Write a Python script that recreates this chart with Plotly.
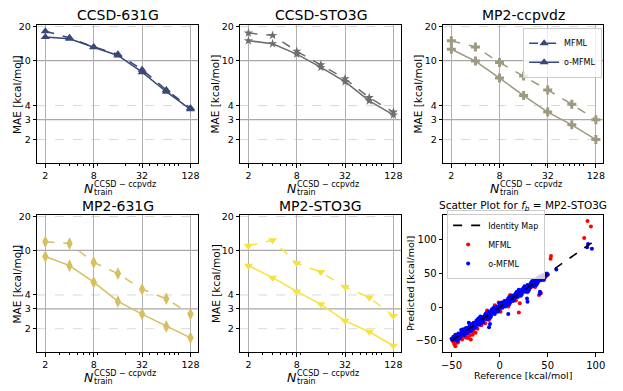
import plotly.graph_objects as go
from plotly.subplots import make_subplots

# training set sizes (x axis of the learning curves)
n_train = [2, 4, 8, 16, 32, 64, 128]

# MAE [kcal/mol]
ccsd_631g_mfml = [18.2, 15.9, 13.2, 11.4, 8.3, 5.5, 3.8]
ccsd_631g_omfml = [16.2, 15.6, 13.1, 11.1, 7.9, 5.3, 3.7]
ccsd_sto3g_mfml = [17.5, 16.7, 12.1, 9.2, 6.9, 4.7, 3.5]
ccsd_sto3g_omfml = [15.0, 14.1, 11.4, 8.7, 6.5, 4.4, 3.3]
mp2_ccpvdz_mfml = [15.0, 13.2, 9.6, 7.3, 5.5, 4.1, 3.0]
mp2_ccpvdz_omfml = [12.6, 9.9, 7.0, 4.9, 3.5, 2.7, 2.0]
mp2_631g_mfml = [11.9, 11.5, 7.8, 6.2, 4.5, 3.7, 2.7]
mp2_631g_omfml = [8.8, 7.3, 5.2, 3.5, 2.7, 2.1, 1.66]
mp2_sto3g_mfml = [11.0, 12.3, 7.7, 6.4, 4.7, 3.8, 2.6]
mp2_sto3g_omfml = [7.3, 5.7, 4.3, 3.3, 2.35, 1.88, 1.41]

x_ticks = [2, 8, 32, 128]
x_minor = [3, 4, 5, 6, 7, 9, 20, 30, 40, 50, 60, 70, 80, 90]
y_ticks = [2, 3, 4, 10, 20]
y_solid = [3, 10]
y_dashed = [2, 4, 20]

# scatter panel (f_b = MP2-STO3G): reference vs predicted [kcal/mol]
mfml_ref = [-49, -48, -47.5, -46, -45, -44.5, -43, -42, -41.5, -40, -39, -38.5, -37, -36, -35.5,
            -34, -33, -32.5, -31, -30, -29.5, -28, -27, -26.5, -25, -24, -23.5, -22, -21, -20.5,
            -19, -18, -17.5, -16, -15, -14.5, -13, -12, -11.5, -10, -9, -8.5, -7, -6, -5.5,
            -4, -3, -2.5, -1, 0, 0.5, 2, 3, 3.5, 5, 6, 6.5, 8, 9, 9.5, 11, 12, 12.5, 14, 15,
            15.5, 17, 18, 18.5, 20, 21, 21.5, 23, 24, 24.5, 26, 27, 27.5, 29, 30, 30.5, 32, 33,
            33.5, 35, 36, 37.5, 39, 40, 42, 44, 45, 47, 48, 50,
            -47, -43, -39, -35, -31, -23, -19, -15, -11, -13, -5, -1, 1, 9, 11, 17, 29, 37, 46,
            91.5, 95, 88, 53.5, 53, 40, 41, 43, 21, 20, -33, -30, -28, -35, -46, -44, -25, -32, -27]
mfml_pred = [-50, -52, -45.5, -50, -43, -48.5, -47, -40, -45.5, -39, -44, -37.5, -41, -34, -39.5,
             -38, -31, -36.5, -29, -35, -28.5, -31, -25, -30.5, -24, -21, -26.5, -20, -24, -18.5,
             -21, -15, -20.5, -14, -18, -12.5, -15, -9, -14.5, -8, -6, -11.5, -5, -9, -3.5,
             -6, 0, -5.5, 1, -2, 3.5, 0, 5, 6.5, 2, 8, 4.5, 11, 6, 12.5, 9, 15, 10.5, 17, 12,
             18.5, 15, 20, 16.5, 23, 18, 24.5, 21, 27, 22.5, 28, 24, 30.5, 27, 32, 27.5, 34, 30,
             36.5, 33, 38, 35.5, 41, 37, 44, 41, 47, 45, 49, 48,
             -55, -52, -48, -45, -42, -32, -27, -24, -19, -5, 3, 7, -7, 1, 18, 10, 22, 30, 40,
             128, 120, 103, 76, 72, 44, 18, 21, 6, -8, -46, -48, -41, -44, -58, -53, -38, -38, -36]

omfml_ref = [-50, -49, -48.5, -47, -46, -45.5, -44, -43, -42.5, -41, -40, -39, -38.5, -37, -36,
             -35, -34.5, -33, -32, -31, -30.5, -29, -28, -27, -26.5, -25, -24, -23, -22.5, -21,
             -20, -19, -18.5, -17, -16, -15, -14.5, -13, -12, -11, -10.5, -9, -8, -7, -6.5, -5,
             -4, -3, -2.5, -1, 0, 1, 1.5, 3, 4, 5, 5.5, 7, 8, 9, 9.5, 11, 12, 13, 13.5, 15, 16,
             17, 17.5, 19, 20, 21, 21.5, 23, 24, 25, 25.5, 27, 28, 29, 29.5, 31, 32, 33, 33.5,
             35, 36, 37, 37.5, 39, 40, 41, 41.5, 43, 44, 45, 46, 47, 48, 49, 50,
             -48, -45, -43, -41, -39, -37, -35, -33, -31, -29, -27, -25, -23, -21, -19, -17,
             -15, -13, -11, -9, -7, -5, -3, -1, 1, 3, 5, 7, 9, 11, 13, 15, 17, 19, 21, 23, 25,
             27, 29, 31, 33, 35, 37, 39, 41, 43, 45, 47, -30, -20, -10, 0, 10, 20, 30, -40, -44,
             -46, -42, -38, -34, -30, -26, -22, -18, -14, -10, -6, -2, 2, 6, 10, 14, 18, 22, 26,
             30, 34, 38, 42, 46, -44, -36, -24, -12, 4, 16, 28, 36, 44, -8, 8, 24, 32, 40, 48,
             92, 91, 96, 59, 42, 42, 28.5, 29, 9, -10, -11, -32, -47, -48, -46, -49]
omfml_pred = [-47, -48, -46.5, -48, -44, -46.5, -42, -45, -40.5, -43, -38, -40, -36.5, -39, -35,
              -33, -36.5, -31, -34, -30, -28.5, -31, -27, -25, -28.5, -23, -25, -21, -24.5, -19,
              -21, -17, -20.5, -15, -17, -13, -16.5, -11, -13, -10, -8.5, -11, -6, -8, -4.5, -7,
              -3, -1, -4.5, 1, -1, 3, -0.5, 5, 3, 7, 4, 9, 7, 11, 8, 13, 11, 15, 12, 17, 15,
              19, 16, 21, 19, 23, 20, 25, 23, 27, 24, 29, 27, 31, 28, 33, 31, 35, 32,
              37, 35, 39, 36, 41, 39, 43, 40, 45, 43, 46, 45, 48, 47, 50, 49,
              -44, -49, -39, -46, -35, -42, -31, -37, -27, -34, -23, -30, -19, -26, -15, -22,
              -11, -18, -7, -14, -3, -10, 1, -5, 5, -1, 9, 3, 13, 7, 17, 11, 21, 15, 25, 19, 29,
              23, 33, 27, 37, 31, 41, 35, 44, 40, 48, 44, -36, -14, -16, 6, 4, 26, 24, -34, -50,
              -41, -47, -33, -39, -25, -31, -17, -23, -9, -15, -1, -7, 7, 1, 15, 9, 23, 17, 31,
              25, 39, 33, 46, 42, -45, -38, -20, -13, 2, 16, 29, 36, 44, -3, 9, 24, 30, 38, 46,
              94, 89, 87, 56, 23, 20, 13, 8, -10, -25, -30, -23, -47, -46, -48, -48]
identity_ends = [-50, 100]

# the page puts the figure 8 px in from the top-left corner of the window
OFF = 8
W, H = 623 - OFF, 391 - OFF
FONT = "DejaVu Sans"


def px(x):
    return (x - OFF) / W


def py(y):
    return 1 - (y - OFF) / H


def label(text, x, y, size, **kw):
    d = dict(text=text, x=px(x), y=py(y), xref="paper", yref="paper", showarrow=False,
             xanchor="center", yanchor="middle", font=dict(size=size, color="black"))
    d.update(kw)
    return d


# panel boxes in window pixels: (left, right) columns and (top, bottom) rows
cols = [(35.3, 197.3), (239.7, 401.5), (444.0, 605.3)]
rows = [(21, 161), (213, 352)]

panels = [
    ("CCSD-631G", ccsd_631g_mfml, ccsd_631g_omfml, "#374879", "triangle-up", 8),
    ("CCSD-STO3G", ccsd_sto3g_mfml, ccsd_sto3g_omfml, "#6e6e70", "star", 7),
    ("MP2-ccpvdz", mp2_ccpvdz_mfml, mp2_ccpvdz_omfml, "#9e9a80", "cross", 7.5),
    ("MP2-631G", mp2_631g_mfml, mp2_631g_omfml, "#d5bf60", "diamond-tall", 9),
    ("MP2-STO3G", mp2_sto3g_mfml, mp2_sto3g_omfml, "#f7e23d", "triangle-down", 8),
]

fig = make_subplots(rows=2, cols=3)

annotations = []
shapes = []
for i, (name, mfml, omfml, color, symbol, msize) in enumerate(panels):
    r, c = divmod(i, 3)
    fig.add_trace(go.Scatter(
        x=n_train, y=mfml, mode="lines+markers", name="MFML",
        line=dict(color=color, width=1.5, dash="dash"),
        marker=dict(symbol=symbol, size=msize, color=color),
        showlegend=(i == 0), legend="legend"), row=r + 1, col=c + 1)
    fig.add_trace(go.Scatter(
        x=n_train, y=omfml, mode="lines+markers", name="o-MFML",
        line=dict(color=color, width=1.5),
        marker=dict(symbol=symbol, size=msize, color=color),
        showlegend=(i == 0), legend="legend"), row=r + 1, col=c + 1)

    left, right = cols[c]
    top, bottom = rows[r]
    cx = (left + right) / 2
    annotations.append(label(name, cx, top - (10 if r == 0 else 8.5), 14))
    annotations.append(label("MAE [kcal/mol]", max(left - 25, 15), (top + bottom) / 2, 10.5,
                             textangle=-90))
    # x title: N_train^{CCSD-ccpvdz}
    annotations.append(label("<i>N</i>", left + 52, bottom + 25, 12.5))
    annotations.append(label("CCSD \u2212 ccpvdz", left + 55.5, bottom + 21, 8, xanchor="left"))
    annotations.append(label("train", left + 55.5, bottom + 29.5, 8, xanchor="left"))

    suffix = "" if i == 0 else str(i + 1)
    for v in y_solid:
        shapes.append(dict(type="line", xref="x%s domain" % suffix, yref="y%s" % suffix,
                           x0=0, x1=1, y0=v, y1=v, layer="below",
                           line=dict(color="#a8a8a8", width=1.3)))
    for v in y_dashed:
        shapes.append(dict(type="line", xref="x%s domain" % suffix, yref="y%s" % suffix,
                           x0=0, x1=1, y0=v, y1=v, layer="below",
                           line=dict(color="#d4d4d4", width=0.9, dash="dash")))

# scatter panel
fig.add_trace(go.Scatter(x=mfml_ref, y=mfml_pred, mode="markers", name="MFML",
                         marker=dict(color="red", size=4), legend="legend2", legendrank=2),
              row=2, col=3)
fig.add_trace(go.Scatter(x=omfml_ref, y=omfml_pred, mode="markers", name="o-MFML",
                         marker=dict(color="blue", size=4), legend="legend2", legendrank=3),
              row=2, col=3)
fig.add_trace(go.Scatter(x=identity_ends, y=identity_ends, mode="lines", name="Identity Map",
                         line=dict(color="black", width=1.6, dash="dash"),
                         legend="legend2", legendrank=1), row=2, col=3)

left, right = cols[2]
top, bottom = rows[1]
annotations.append(label("Scatter Plot for <i>f</i><sub><i>b</i></sub> = MP2-STO3G",
                         (left + right) / 2, top - 9, 10.5))
annotations.append(label("Reference [kcal/mol]", (left + right) / 2, bottom + 23, 9.5))
annotations.append(label("Predicted [kcal/mol]", left - 33, (top + bottom) / 2, 9.5,
                         textangle=-90))

axis_common = dict(showline=True, linecolor="black", linewidth=1, mirror=True,
                   ticks="outside", ticklen=3.5, tickcolor="black", zeroline=False)

for i in range(6):
    r, c = divmod(i, 3)
    xd = [px(cols[c][0]), px(cols[c][1])]
    yd = [py(rows[r][1]), py(rows[r][0])]
    xname = "xaxis" if i == 0 else "xaxis%d" % (i + 1)
    yname = "yaxis" if i == 0 else "yaxis%d" % (i + 1)
    if i < 5:
        fig.layout[xname].update(
            domain=xd, type="log", range=[0.1987, 2.2014], tickmode="array",
            tickvals=x_ticks, ticktext=[str(t) for t in x_ticks],
            showgrid=True, gridcolor="#b0b0b0", gridwidth=1.3,
            minor=dict(tickmode="array", tickvals=x_minor, ticks="outside", ticklen=2,
                       tickcolor="black", showgrid=False),
            tickfont=dict(size=9.5, color="black"), **axis_common)
        fig.layout[yname].update(
            domain=yd, type="log", range=[0.0899, 1.316], tickmode="array",
            tickvals=y_ticks, ticktext=[str(t) for t in y_ticks], showgrid=False,
            tickfont=dict(size=9.5, color="black"), **axis_common)
    else:
        fig.layout[xname].update(
            domain=xd, range=[-58.7, 108], tickmode="array", tickvals=[-50, 0, 50, 100],
            showgrid=False, tickfont=dict(size=10, color="black"), **axis_common)
        fig.layout[yname].update(
            domain=yd, range=[-67.3, 137.3], tickmode="array", tickvals=[-50, 0, 50, 100],
            showgrid=False, tickfont=dict(size=10, color="black"), **axis_common)

fig.update_layout(
    width=W, height=H, margin=dict(l=0, r=0, t=0, b=0),
    plot_bgcolor="white", paper_bgcolor="white",
    font=dict(family=FONT, color="black"),
    annotations=annotations, shapes=shapes,
    legend=dict(x=px(604), y=py(24), xanchor="right", yanchor="top",
                bgcolor="rgba(255,255,255,0.8)", bordercolor="#cccccc", borderwidth=1,
                font=dict(size=8), itemwidth=30, tracegroupgap=0),
    legend2=dict(x=px(448), y=py(208), xanchor="left", yanchor="top",
                 bgcolor="rgba(255,255,255,0.8)", bordercolor="#cccccc", borderwidth=1,
                 font=dict(size=8), itemwidth=30, tracegroupgap=0),
)

fig.write_html("out.html")
